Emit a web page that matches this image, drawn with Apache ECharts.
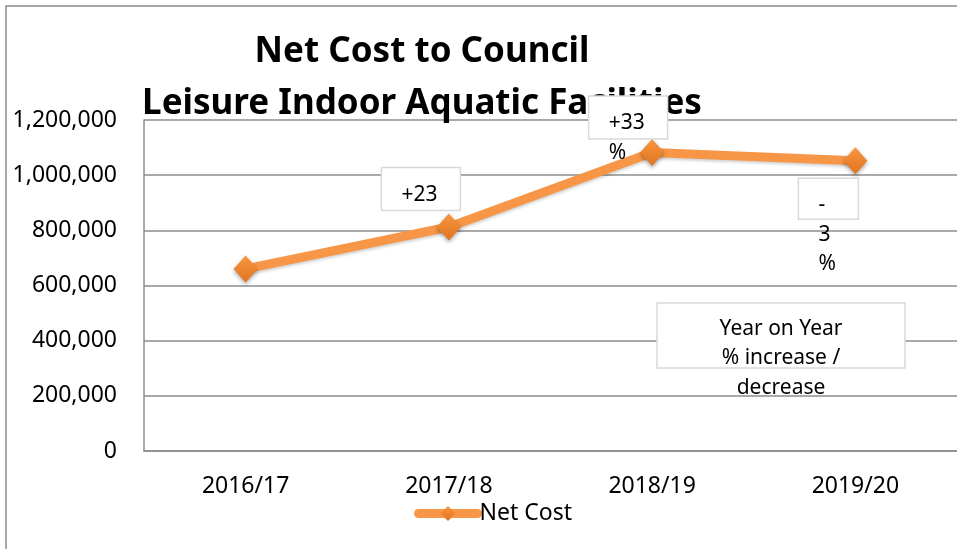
<!DOCTYPE html>
<html>
<head>
<meta charset="utf-8">
<script src="https://cdn.jsdelivr.net/npm/echarts@6/dist/echarts.min.js"></script>
<style>
  html, body { margin: 0; padding: 0; background: #fff; }
  #chart { width: 957px; height: 549px; }
</style>
</head>
<body>
<div id="chart"></div>
<script>
// Net cost per financial year
const years = ['2016/17', '2017/18', '2018/19', '2019/20'];
const netCost = [660000, 812000, 1082000, 1052000];
// Year-on-year change labels shown beside the points (text wraps in narrow boxes)
const changeLabels = ['', '+23', '+33\n%', '-\n3\n%'];
const noteText = 'Year on Year\n% increase /\ndecrease';

const FONT = '"Noto Sans", sans-serif';
const GRID_GREY = '#8c8c8c';
const ORANGE = '#F79646';

const chart = echarts.init(document.getElementById('chart'), null, { renderer: 'canvas' });

chart.setOption({
  animation: false,
  backgroundColor: '#fff',
  title: {
    text: 'Net Cost to Council\nLeisure Indoor Aquatic Facilities',
    left: 417,
    top: 21,
    textAlign: 'center',
    textStyle: { fontFamily: FONT, fontWeight: 'bold', fontSize: 35, lineHeight: 52, color: '#000' }
  },
  legend: {
    data: ['Net Cost'],
    left: 409,
    top: 497,
    itemWidth: 59,
    itemHeight: 19,
    lineStyle: { width: 9, cap: 'round' },
    textStyle: { fontFamily: FONT, fontSize: 23, color: '#000', padding: [0, 0, 0, -3] }
  },
  grid: { left: 144, top: 120, width: 819, height: 331 },
  xAxis: {
    type: 'category',
    data: years,
    boundaryGap: true,
    axisLine: { lineStyle: { color: GRID_GREY, width: 1.5 } },
    axisTick: { show: false },
    axisLabel: { margin: 24, fontFamily: FONT, fontSize: 23, color: '#000' }
  },
  yAxis: {
    type: 'value',
    min: 0,
    max: 1200000,
    interval: 200000,
    axisLine: { show: true, lineStyle: { color: GRID_GREY, width: 1.5 } },
    axisTick: { show: false },
    splitLine: { lineStyle: { color: GRID_GREY, width: 1.5 } },
    axisLabel: {
      margin: 27,
      fontFamily: FONT,
      fontSize: 23,
      color: '#000',
      formatter: v => v.toLocaleString('en-US')
    }
  },
  series: [{
    name: 'Net Cost',
    type: 'line',
    data: netCost,
    symbol: 'diamond',
    symbolSize: [24, 27],
    z: 3,
    lineStyle: {
      color: ORANGE,
      width: 9,
      shadowColor: 'rgba(0,0,0,0.18)',
      shadowBlur: 3,
      shadowOffsetY: 2
    },
    itemStyle: {
      color: new echarts.graphic.LinearGradient(0, 0, 0, 1, [
        { offset: 0, color: '#F8963F' },
        { offset: 1, color: '#E0741F' }
      ]),
      borderWidth: 0,
      shadowColor: 'rgba(0,0,0,0.35)',
      shadowBlur: 4,
      shadowOffsetY: 2
    }
  }]
});

// Label boxes placed relative to each point
const boxPlacement = {
  1: { dx: -28, dy: -38, w: 79, h: 43 },
  2: { dx: -24, dy: -35, w: 79, h: 43 },
  3: { dx: -27, dy: 38, w: 60, h: 41 }
};
const LINE_H = 29.5;
const graphics = [];

// Outer chart frame
graphics.push({
  type: 'rect', z: 1, silent: true,
  shape: { x: 6, y: 6, width: 1000, height: 600 },
  style: { fill: 'none', stroke: GRID_GREY, lineWidth: 1.5 }
});

changeLabels.forEach((txt, i) => {
  if (!txt) return;
  const p = chart.convertToPixel({ seriesIndex: 0 }, [i, netCost[i]]);
  const b = boxPlacement[i];
  const left = p[0] + b.dx - b.w / 2;
  const top = p[1] + b.dy - b.h / 2;
  graphics.push({
    type: 'rect', z: 20, silent: true,
    shape: { x: left, y: top, width: b.w, height: b.h },
    style: { fill: '#fff', stroke: '#d9d9d9', lineWidth: 1.5 }
  });
  graphics.push({
    type: 'text', z: 21, silent: true,
    style: {
      x: left + 20, y: top + 27 - LINE_H / 2,
      text: txt,
      font: '21px ' + FONT,
      fill: '#000',
      lineHeight: LINE_H,
      align: 'left',
      verticalAlign: 'top'
    }
  });
});

// Explanatory note box
graphics.push({
  type: 'rect', z: 20, silent: true,
  shape: { x: 657, y: 303, width: 248, height: 65 },
  style: { fill: '#fff', stroke: '#d9d9d9', lineWidth: 1.5 }
});
graphics.push({
  type: 'text', z: 21, silent: true,
  style: {
    x: 781, y: 329 - LINE_H / 2,
    text: noteText,
    font: '21px ' + FONT,
    fill: '#000',
    lineHeight: LINE_H,
    align: 'center',
    verticalAlign: 'top'
  }
});

chart.setOption({ graphic: graphics });
</script>
</body>
</html>
